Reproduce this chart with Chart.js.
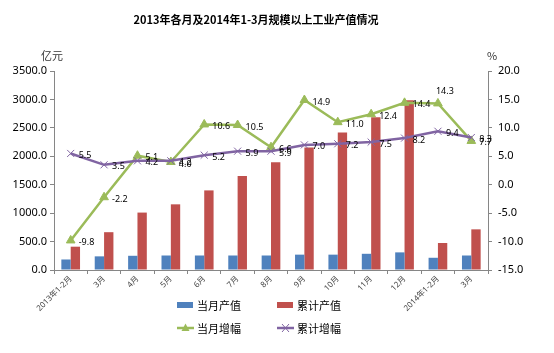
<!DOCTYPE html>
<html>
<head>
<meta charset="utf-8">
<script src="https://cdn.jsdelivr.net/npm/chart.js@4"></script>
<style>
  html, body { margin: 0; padding: 0; background: #fff; }
  #wrap { width: 554px; height: 353px; }
</style>
</head>
<body>
<div id="wrap"><canvas id="myChart" width="554" height="353"></canvas></div>
<script>
// 数据
const labels = ['2013年1-2月', '3月', '4月', '5月', '6月', '7月', '8月', '9月', '10月', '11月', '12月', '2014年1-2月', '3月'];
const monthValue = [185, 240, 250, 255, 255, 255, 255, 270, 270, 285, 310, 215, 255];
const totalValue = [410, 665, 1010, 1155, 1400, 1655, 1895, 2155, 2420, 2685, 2985, 475, 715];
const monthGrowth = [-9.8, -2.2, 5.1, 4.0, 10.6, 10.5, 6.6, 14.9, 11.0, 12.4, 14.4, 14.3, 7.7];
const totalGrowth = [5.5, 3.5, 4.2, 4.2, 5.2, 5.9, 5.9, 7.0, 7.2, 7.5, 8.2, 9.4, 8.3];

const FONT = '"Noto Sans", "Noto Sans CJK SC", sans-serif';
const AXIS = '#868686';

// 折线数据标签 + 标题 + 图例
const extras = {
    id: 'extras',
    afterDatasetsDraw(chart) {
        const ctx = chart.ctx;
        ctx.save();
        ctx.font = '9px ' + FONT;
        ctx.fillStyle = '#000';
        ctx.textAlign = 'left';
        ctx.textBaseline = 'middle';
        [2, 3].forEach(di => {
            const meta = chart.getDatasetMeta(di);
            const vals = chart.data.datasets[di].data;
            meta.data.forEach((pt, i) => {
                let x = pt.x + 8, y = pt.y + 2;
                if (di === 2 && i === 11) { x = pt.x - 2; y = pt.y - 12; }
                ctx.fillText(vals[i].toFixed(1), x, y);
            });
        });
        ctx.restore();
    },
    afterDraw(chart) {
        const ctx = chart.ctx;
        ctx.save();
        ctx.fillStyle = '#000';
        ctx.textBaseline = 'middle';
        ctx.textAlign = 'center';
        ctx.font = 'bold 11px "Noto Sans CJK SC", sans-serif';
        ctx.fillText('2013年各月及2014年1-3月规模以上工业产值情况', 256, 20);
        ctx.font = '11px "Noto Sans CJK SC", sans-serif';
        ctx.fillStyle = '#333';
        ctx.textAlign = 'left';
        ctx.fillText('亿元', 41, 56);
        ctx.fillText('%', 487, 56);

        // 图例
        ctx.font = '11px "Noto Sans CJK SC", sans-serif';
        ctx.fillStyle = '#4F81BD';
        ctx.fillRect(177, 302, 16, 6);
        ctx.fillStyle = '#C0504D';
        ctx.fillRect(277, 302, 16, 6);
        ctx.fillStyle = '#000';
        ctx.fillText('当月产值', 197, 306);
        ctx.fillText('累计产值', 297, 306);

        ctx.strokeStyle = '#9BBB59';
        ctx.lineWidth = 2.5;
        ctx.beginPath(); ctx.moveTo(177, 328); ctx.lineTo(194, 328); ctx.stroke();
        ctx.fillStyle = '#9BBB59';
        ctx.beginPath(); ctx.moveTo(185.5, 323.5); ctx.lineTo(189.5, 331); ctx.lineTo(181.5, 331); ctx.closePath(); ctx.fill();
        ctx.strokeStyle = '#8064A2';
        ctx.beginPath(); ctx.moveTo(277, 328); ctx.lineTo(294, 328); ctx.stroke();
        ctx.lineWidth = 1;
        ctx.beginPath();
        ctx.moveTo(282, 324); ctx.lineTo(289, 332);
        ctx.moveTo(289, 324); ctx.lineTo(282, 332);
        ctx.stroke();
        ctx.fillStyle = '#000';
        ctx.fillText('当月增幅', 197, 329);
        ctx.fillText('累计增幅', 297, 329);
        ctx.restore();
    }
};

const ctx = document.getElementById('myChart').getContext('2d');
const myChart = new Chart(ctx, {
    type: 'bar',
    data: {
        labels: labels,
        datasets: [{
            label: '当月产值',
            data: monthValue,
            backgroundColor: '#4F81BD',
            yAxisID: 'y',
            order: 2,
            categoryPercentage: 0.56,
            barPercentage: 1
        }, {
            label: '累计产值',
            data: totalValue,
            backgroundColor: '#C0504D',
            yAxisID: 'y',
            order: 2,
            categoryPercentage: 0.56,
            barPercentage: 1
        }, {
            type: 'line',
            label: '当月增幅',
            data: monthGrowth,
            borderColor: '#9BBB59',
            backgroundColor: '#9BBB59',
            borderWidth: 2.5,
            pointStyle: 'triangle',
            pointRadius: 5,
            pointBorderWidth: 1,
            yAxisID: 'y1',
            order: 1
        }, {
            type: 'line',
            label: '累计增幅',
            data: totalGrowth,
            borderColor: '#8064A2',
            backgroundColor: '#8064A2',
            borderWidth: 2.5,
            pointStyle: 'crossRot',
            pointRadius: 5,
            pointBorderWidth: 1,
            yAxisID: 'y1',
            order: 0
        }]
    },
    options: {
        responsive: false,
        animation: false,
        layout: { padding: { top: 71, bottom: 40, left: 0, right: 0 } },
        plugins: {
            legend: { display: false },
            tooltip: { enabled: false }
        },
        scales: {
            x: {
                offset: true,
                grid: { display: true, drawOnChartArea: false, offset: true, tickLength: 4, color: AXIS },
                border: { color: AXIS },
                ticks: {
                    autoSkip: false, minRotation: 45, maxRotation: 45, padding: 0,
                    font: { size: 8, family: FONT }, color: '#444'
                },
                afterFit(scale) { scale.height = 43; }
            },
            y: {
                position: 'left',
                min: 0, max: 3500,
                grid: { drawOnChartArea: false, tickLength: 4, color: AXIS },
                border: { color: AXIS },
                ticks: {
                    stepSize: 500, padding: 3,
                    font: { size: 11, family: FONT }, color: '#000',
                    callback: v => v.toFixed(1)
                },
                afterFit(scale) { scale.width = 54; }
            },
            y1: {
                position: 'right',
                min: -15, max: 20,
                grid: { drawOnChartArea: false, tickLength: 4, color: AXIS },
                border: { color: AXIS },
                ticks: {
                    stepSize: 5, padding: 6,
                    font: { size: 11, family: FONT }, color: '#000',
                    callback: v => v.toFixed(1)
                },
                afterFit(scale) { scale.width = 66; }
            }
        }
    },
    plugins: [extras]
});
</script>
</body>
</html>
